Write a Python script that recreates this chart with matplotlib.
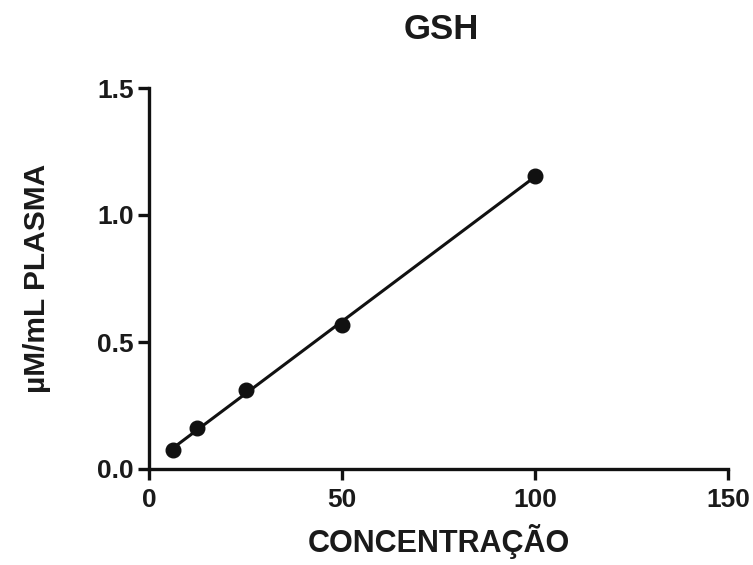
import matplotlib
matplotlib.use("Agg")
import matplotlib.pyplot as plt
import numpy as np

plt.rcParams['font.family'] = ['Liberation Sans', 'DejaVu Sans']

concentration = [6.25, 12.5, 25, 50, 100]
plasma = [0.075, 0.16, 0.31, 0.565, 1.155]
x_ticks = [0, 50, 100, 150]
y_ticks = [0.0, 0.5, 1.0, 1.5]

fig = plt.figure(figsize=(7.53, 5.65), dpi=100)
ax = fig.add_axes([149/753, 1-469/565, 579/753, 381/565])

slope, intercept = np.polyfit(concentration, plasma, 1)
xs = np.array([min(concentration), max(concentration)])
ax.plot(xs, slope*xs + intercept, color='#111111', lw=2.2, zorder=2)
ax.plot(concentration, plasma, 'o', color='#111111', ms=10.5, zorder=3)

ax.set_xlim(0, 150)
ax.set_ylim(0, 1.5)
ax.set_xticks(x_ticks)
ax.set_yticks(y_ticks)
ax.set_yticklabels(['0.0', '0.5', '1.0', '1.5'])
for s in ['top', 'right']:
    ax.spines[s].set_visible(False)
for s in ['left', 'bottom']:
    ax.spines[s].set_linewidth(2.4)
    ax.spines[s].set_color('#111111')
ax.tick_params(width=2.4, length=8, color='#111111', labelsize=19)
ax.tick_params(axis='x', pad=6)
ax.tick_params(axis='y', pad=3)
for lab in ax.get_xticklabels() + ax.get_yticklabels():
    lab.set_fontweight('bold')
    lab.set_color('#1a1a1a')

ax.set_xlabel('CONCENTRAÇÃO', fontsize=22, fontweight='bold', color='#1a1a1a', labelpad=8)
ax.set_ylabel('µM/mL PLASMA', fontsize=21.5, fontweight='bold', color='#1a1a1a', labelpad=33)
fig.text(441/753, 1-39/565, 'GSH', fontsize=25, fontweight='bold', color='#1a1a1a',
         ha='center', va='baseline')

fig.savefig('out.png', dpi=100, facecolor='white')
